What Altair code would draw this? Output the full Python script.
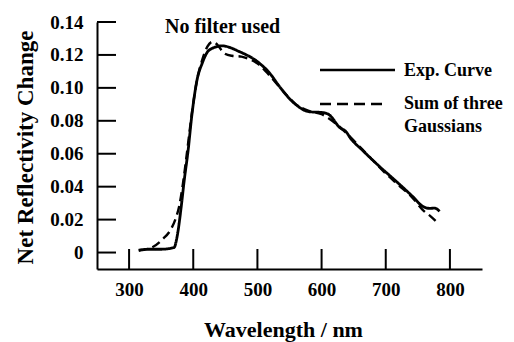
import altair as alt
import pandas as pd

# Experimental curve (solid)
exp_wl = [315, 330, 350, 370, 375, 381, 386, 392, 398, 406, 414, 425, 445, 472,
          503, 519, 534, 555, 581, 602, 612, 628, 639, 644, 664, 691, 717, 742,
          758, 769, 776, 784]
exp_val = [0.0012, 0.002, 0.002, 0.003, 0.010, 0.027, 0.044, 0.062, 0.084, 0.105,
           0.115, 0.123, 0.1255, 0.122, 0.115, 0.109, 0.101, 0.0915, 0.0855, 0.085,
           0.0836, 0.076, 0.073, 0.070, 0.062, 0.052, 0.043, 0.034, 0.028, 0.0268,
           0.027, 0.025]

# Sum of three Gaussians (dashed)
fit_wl = [315, 335, 352, 365, 372, 378, 384, 390, 398, 406, 414, 422, 430, 438,
          448, 460, 475, 490, 503, 520, 540, 560, 580, 600, 620, 640, 660, 680,
          700, 720, 740, 760, 770, 781]
fit_val = [0.0015, 0.003, 0.008, 0.014, 0.020, 0.028, 0.042, 0.060, 0.085, 0.105,
           0.117, 0.125, 0.128, 0.126, 0.121, 0.1195, 0.119, 0.117, 0.114, 0.107,
           0.098, 0.090, 0.086, 0.084, 0.079, 0.072, 0.064, 0.056, 0.048, 0.041,
           0.034, 0.025, 0.022, 0.018]

series_names = ["Exp. Curve", "Sum of three Gaussians"]
x_ticks = [300, 400, 500, 600, 700, 800]
y_ticks = [0, 0.02, 0.04, 0.06, 0.08, 0.10, 0.12, 0.14]
annotation = ["No filter used"]

FONT = "Liberation Serif"

df = pd.concat([
    pd.DataFrame({"wl": exp_wl, "val": exp_val, "series": series_names[0]}),
    pd.DataFrame({"wl": fit_wl, "val": fit_val, "series": series_names[1]}),
])

xscale = alt.Scale(domain=[250, 850], nice=False, zero=False)
yscale = alt.Scale(domain=[-0.01, 0.14], nice=False, zero=False)

xaxis = alt.Axis(values=x_ticks, ticks=False, grid=False, labelPadding=11,
                 labelOverlap=False, format="d",
                 title="Wavelength / nm", titleX=186, titleY=67,
                 titleBaseline="alphabetic", titleFontSize=22)
yaxis = alt.Axis(values=y_ticks, ticks=False, grid=False, labelPadding=14,
                 labelOverlap=False,
                 labelExpr="datum.value == 0 ? '0' : format(datum.value, '.2f')",
                 title="Net Reflectivity Change", titleX=-72, titleY=125,
                 titleBaseline="middle", titleFontSize=23)

lines = alt.Chart(df).mark_line(color="black", interpolate="monotone").encode(
    x=alt.X("wl:Q", scale=xscale, axis=xaxis),
    y=alt.Y("val:Q", scale=yscale, axis=yaxis),
    strokeDash=alt.StrokeDash("series:N", scale=alt.Scale(domain=series_names,
                              range=[[1, 0], [9, 5]]), legend=None),
    strokeWidth=alt.StrokeWidth("series:N", scale=alt.Scale(domain=series_names,
                                range=[2.8, 2.4]), legend=None),
)

ytick_df = pd.DataFrame({"val": y_ticks})
yticks = alt.Chart(ytick_df).mark_rule(color="black", strokeWidth=2).encode(
    y=alt.Y("val:Q", scale=yscale, axis=yaxis), x=alt.value(0), x2=alt.value(19))

xtick_df = pd.DataFrame({"wl": x_ticks})
xticks = alt.Chart(xtick_df).mark_rule(color="black", strokeWidth=2).encode(
    x=alt.X("wl:Q", scale=xscale, axis=xaxis), y=alt.value(247), y2=alt.value(227))

leg_df = pd.DataFrame({"series": series_names})
leg_solid = alt.Chart(leg_df).transform_filter(
    alt.datum.series == series_names[0]).mark_rule(color="black", strokeWidth=2.5).encode(
    x=alt.value(223), x2=alt.value(298), y=alt.value(48))
leg_dash = alt.Chart(leg_df).transform_filter(
    alt.datum.series == series_names[1]).mark_rule(color="black", strokeWidth=2.5,
                                                    strokeDash=[11, 6]).encode(
    x=alt.value(223), x2=alt.value(291), y=alt.value(82))
leg_text1 = alt.Chart(leg_df).transform_filter(
    alt.datum.series == series_names[0]).mark_text(
    align="left", baseline="middle", font=FONT, fontSize=18, fontWeight="bold",
    color="black").encode(x=alt.value(307), y=alt.value(49), text="series:N")
leg_text2 = alt.Chart(leg_df).transform_filter(
    alt.datum.series == series_names[1]).transform_calculate(
    lab="split(datum.series, ' G')").transform_calculate(
    lab="[datum.lab[0], 'G' + datum.lab[1]]").mark_text(
    align="left", baseline="top", font=FONT, fontSize=18, fontWeight="bold",
    color="black", lineHeight=23).encode(x=alt.value(307), y=alt.value(73), text="lab:N")

ann = alt.Chart(pd.DataFrame({"t": annotation})).mark_text(
    align="left", baseline="middle", font=FONT, fontSize=20, fontWeight="bold",
    color="black").encode(x=alt.value(68), y=alt.value(5), text="t:N")

chart = alt.layer(lines, yticks, xticks, leg_solid, leg_dash, leg_text1, leg_text2, ann).properties(
    width=385, height=247,
    autosize=alt.AutoSizeParams(type="none"),
    padding={"left": 89, "top": 14, "right": 24, "bottom": 73},
).configure_view(stroke=None).configure_axis(
    domainColor="black", domainWidth=2, labelFont=FONT, labelFontSize=19,
    labelFontWeight="bold", labelColor="black", titleFont=FONT,
    titleFontWeight="bold", titleColor="black", labelOverlap=False,
).configure_axisX(labelBaseline="top")

chart.save("out.html", embed_options={"renderer": "svg", "actions": False})
